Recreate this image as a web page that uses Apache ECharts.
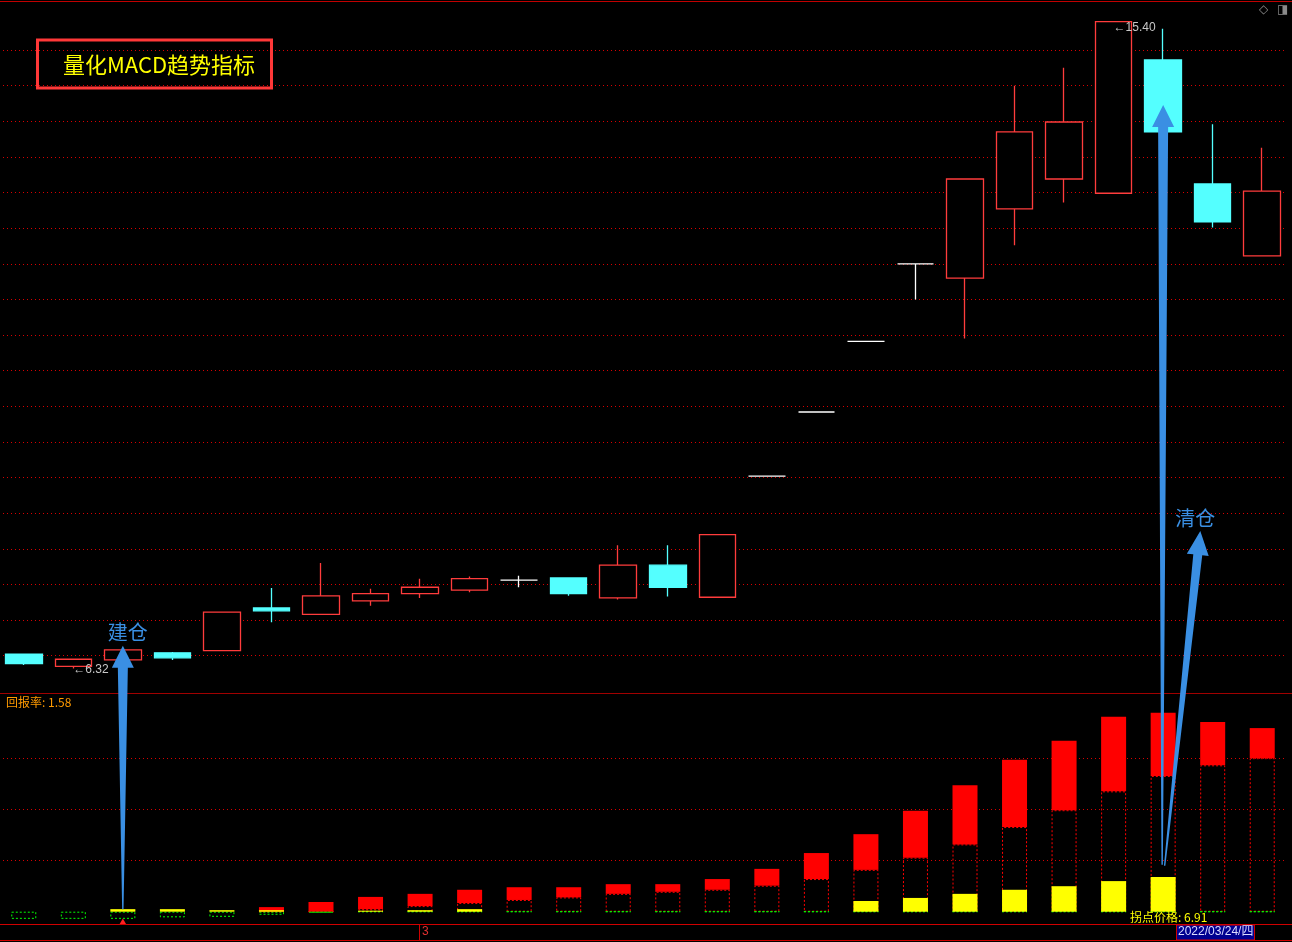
<!DOCTYPE html>
<html><head><meta charset="utf-8">
<script src="https://cdn.jsdelivr.net/npm/echarts@6/dist/echarts.min.js"></script>
<style>html,body{margin:0;padding:0;background:#000;}#c{width:1292px;height:942px;}</style>
</head><body><div id="c"></div>
<script>
// ---- data ----
const categories = ['2022/02/17','2022/02/18','2022/02/21','2022/02/22','2022/02/23','2022/02/24','2022/02/25','2022/02/28',
  '2022/03/01','2022/03/02','2022/03/03','2022/03/04','2022/03/07','2022/03/08','2022/03/09','2022/03/10','2022/03/11',
  '2022/03/14','2022/03/15','2022/03/16','2022/03/17','2022/03/18','2022/03/21','2022/03/22','2022/03/23','2022/03/24'];
const opens  = [6.52,6.35,6.44,6.54,6.57,7.17,7.08,7.27,7.37,7.42,7.56,7.59,7.31,7.77,7.32,9.02,9.92,10.91,12.00,11.80,12.77,13.19,12.99,14.86,13.12,12.11];
const closes = [6.39,6.45,6.58,6.47,7.11,7.13,7.34,7.37,7.46,7.58,7.56,7.37,7.77,7.46,8.20,9.02,9.92,10.91,12.00,13.19,13.85,13.99,15.40,13.85,12.59,13.02];
const lows   = [6.37,6.32,6.44,6.44,6.57,6.97,7.08,7.20,7.31,7.39,7.46,7.34,7.29,7.33,7.32,9.02,9.92,10.91,11.50,10.95,12.26,12.86,12.99,13.85,12.51,12.11];
const highs  = [6.52,6.46,6.58,6.55,7.11,7.45,7.80,7.44,7.58,7.61,7.62,7.59,8.05,8.05,8.20,9.02,9.92,10.91,12.00,13.19,14.50,14.75,15.40,15.30,13.96,13.63];
// lower panel (趋势柱)
const trendLow  = [null,null,null,null,null,0,0,0.05,0.11,0.17,0.23,0.28,0.35,0.39,0.43,0.51,0.64,0.82,1.06,1.32,1.66,1.99,2.36,2.66,2.87,3.01];
const trendHigh = [null,null,null,null,null,0.09,0.19,0.29,0.35,0.43,0.48,0.48,0.54,0.54,0.64,0.84,1.15,1.52,1.98,2.48,2.98,3.35,3.82,3.90,3.72,3.60];
const yellowVals = [0,0,0.05,0.05,0.03,0.03,0,0.02,0.03,0.05,0,0,0,0,0,0,0,0.21,0.27,0.35,0.43,0.50,0.60,0.68,0,0];
const greenVals  = [-0.14,-0.14,-0.14,-0.11,-0.10,-0.06,-0.02,0,0,0,0,0,0,0,0,0,0,0,0,0,0,0,0,0,0,0];
const priceTicks = {min:6, max:15.5, step:0.5};
const subGridValues = [1,2,3];
const lowMark = {index:1, value:6.32};
const highMark = {index:22, value:15.40};

const RED='#ff3c3c', CYAN='#54ffff', GRIDRED='#ff0000', ARROW='#3a8fe3';
const chart = echarts.init(document.getElementById('c'), null, {renderer:'canvas'});
const candleData = opens.map((o,i)=>[o, closes[i], lows[i], highs[i]]);
const redPart = trendHigh.map((h,i)=> h==null? null : +(h - trendLow[i]).toFixed(3));
const FONT = '"Noto Sans CJK SC", "Liberation Sans", sans-serif';

chart.setOption({
  backgroundColor:'#000',
  animation:false,
  grid:[
    {left:-1, right:5, top:14.4, height:676.9, outerBoundsMode:'none'},
    {left:-1, right:5, top:693, height:231.3, outerBoundsMode:'none'}
  ],
  xAxis:[
    {type:'category', gridIndex:0, data:categories, boundaryGap:true, axisLine:{show:false}, axisTick:{show:false}, axisLabel:{show:false}, splitLine:{show:false}},
    {type:'category', gridIndex:1, data:categories, boundaryGap:true, axisLine:{show:false}, axisTick:{show:false}, axisLabel:{show:false}, splitLine:{show:false}}
  ],
  yAxis:[
    {type:'value', gridIndex:0, min:priceTicks.min, max:priceTicks.max, interval:priceTicks.step, scale:true,
      axisLine:{show:false}, axisTick:{show:false}, axisLabel:{show:false},
      splitLine:{show:true, showMinLine:false, showMaxLine:false, lineStyle:{color:GRIDRED, type:[1,3], width:1, opacity:0.85}}},
    {type:'value', gridIndex:1, min:-0.247, max:4.288,
      axisLine:{show:false}, axisTick:{show:false}, axisLabel:{show:false}, splitLine:{show:false}}
  ],
  series:[
    {type:'candlestick', xAxisIndex:0, yAxisIndex:0, data:candleData, barWidth:37, z:3,
      itemStyle:{color:'#000', color0:CYAN, borderColor:RED, borderColor0:CYAN, borderColorDoji:'#ffffff', borderWidth:1.3},
      emphasis:{disabled:true},
      markPoint:{symbol:'circle', symbolSize:0, silent:true,
        label:{show:true, position:'right', distance:0, color:'#c8c8c8', fontSize:12, fontFamily:'"Liberation Sans", sans-serif'},
        data:[
          {coord:[lowMark.index, lowMark.value], label:{formatter:'←'+lowMark.value.toFixed(2), offset:[0,1]}},
          {coord:[highMark.index, highMark.value], label:{formatter:'←'+highMark.value.toFixed(2), offset:[0,6]}}
        ]}
    },
    {type:'bar', name:'base', xAxisIndex:1, yAxisIndex:1, stack:'sub', data:trendLow, barWidth:25, barGap:'-100%', z:2,
      itemStyle:{color:'rgba(0,0,0,0)', borderColor:'#ff0000', borderType:[2,2], borderWidth:1},
      emphasis:{disabled:true},
      markLine:{silent:true, symbol:['none','none'], z:1, label:{show:false},
        lineStyle:{color:GRIDRED, type:[1,3], width:1, opacity:0.85},
        data: subGridValues.map(v=>({yAxis:v}))}
    },
    {type:'bar', name:'red', xAxisIndex:1, yAxisIndex:1, stack:'sub', data:redPart, barWidth:25, z:3,
      itemStyle:{color:'#ff0000'}, emphasis:{disabled:true}},
    {type:'bar', name:'yellow', xAxisIndex:1, yAxisIndex:1, data:yellowVals, barWidth:25, z:4,
      itemStyle:{color:'#ffff00'}, emphasis:{disabled:true}},
    {type:'bar', name:'green', xAxisIndex:1, yAxisIndex:1, data:greenVals, barWidth:25, z:3,
      itemStyle:{color:'rgba(0,0,0,0)', borderColor:'#00ff00', borderType:[2,2], borderWidth:1},
      emphasis:{disabled:true},
      markPoint:{symbol:'triangle', symbolSize:[7,6], silent:true, itemStyle:{color:'#ff2020'}, label:{show:false},
        data:[{coord:[2,-0.19]}]}
    }
  ]
});

function px(grid, idx, val){ return chart.convertToPixel({gridIndex:grid}, [idx, val]); }
function pxf(grid, f, val){
  const i = Math.floor(f), t = f - i;
  const a = px(grid, i, val), b = px(grid, Math.min(i+1, categories.length-1), val);
  return [a[0] + (b[0]-a[0])*t, a[1]];
}
function arrowPoly(tail, tip, headLen, headHalf, shaftHalf, tailHalf){
  const dx = tip[0]-tail[0], dy = tip[1]-tail[1], L = Math.hypot(dx,dy);
  const ux = dx/L, uy = dy/L, nx = -uy, ny = ux;
  const bx = tip[0]-ux*headLen, by = tip[1]-uy*headLen;
  return [tip, [bx+nx*headHalf, by+ny*headHalf], [bx+nx*shaftHalf, by+ny*shaftHalf],
    [tail[0]+nx*tailHalf, tail[1]+ny*tailHalf], [tail[0]-nx*tailHalf, tail[1]-ny*tailHalf],
    [bx-nx*shaftHalf, by-ny*shaftHalf], [bx-nx*headHalf, by-ny*headHalf]];
}
const a1tail = pxf(1, 2, 0.05), a1tip = pxf(0, 2, 6.64);
const a2tail = pxf(1, 22.98, 0.92), a2tip = pxf(0, 23, 14.23);
const a3tail = pxf(1, 23.03, 0.90), a3tip = pxf(0, 23.75, 8.25);
const monthX = px(0, 8, 10)[0];
const W = 1292;

chart.setOption({graphic:[
  // frame lines
  {type:'line', z:50, shape:{x1:0,y1:1.5,x2:W,y2:1.5}, style:{stroke:'#c00000', lineWidth:1}},
  {type:'line', z:50, shape:{x1:0,y1:693.5,x2:W,y2:693.5}, style:{stroke:'#a00000', lineWidth:1}},
  {type:'line', z:50, shape:{x1:0,y1:924.5,x2:W,y2:924.5}, style:{stroke:'#d00000', lineWidth:1}},
  {type:'line', z:50, shape:{x1:0,y1:940.5,x2:W,y2:940.5}, style:{stroke:'#d00000', lineWidth:1}},
  {type:'line', z:50, shape:{x1:Math.round(monthX)-0.5,y1:925,x2:Math.round(monthX)-0.5,y2:940}, style:{stroke:'#d00000', lineWidth:1}},
  {type:'text', z:50, x:monthX+2, y:926, style:{text:'3', fill:'#e03030', font:'12px "Liberation Sans", sans-serif'}},
  // date label
  {type:'rect', z:50, shape:{x:1176.5,y:925,width:78,height:15}, style:{fill:'#000090', stroke:'#d00000', lineWidth:1}},
  {type:'text', z:51, x:1178, y:926, style:{text:'2022/03/24/四', fill:'#dcdcff', font:'12px "Liberation Sans", "Noto Sans CJK SC", sans-serif'}},
  // icons
  {type:'text', z:50, x:1259, y:4, style:{text:'◇', fill:'#8a8a8a', font:'12px "DejaVu Sans", sans-serif'}},
  {type:'text', z:50, x:1277, y:4, style:{text:'◨', fill:'#8a8a8a', font:'12px "DejaVu Sans", sans-serif'}},
  // title box
  {type:'rect', z:50, shape:{x:37.5,y:40,width:234,height:48}, style:{fill:'rgba(0,0,0,0)', stroke:'#ff3838', lineWidth:3}},
  {type:'text', z:51, x:159, y:65, style:{text:'量化MACD趋势指标', fill:'#ffff00', font:'22px '+FONT, textAlign:'center', textVerticalAlign:'middle'}},
  // indicator texts
  {type:'text', z:50, x:6, y:702, style:{text:'回报率: 1.58', fill:'#ff9a00', font:'12px '+FONT, textVerticalAlign:'middle'}},
  {type:'text', z:60, x:1130, y:917, style:{text:'拐点价格: 6.91', fill:'#ffff00', font:'12px '+FONT, textVerticalAlign:'middle'}},
  // arrows
  {type:'polygon', z:100, shape:{points:arrowPoly(a1tail, a1tip, 22, 11, 5, 0.7)}, style:{fill:ARROW}},
  {type:'polygon', z:100, shape:{points:arrowPoly(a2tail, a2tip, 22, 11, 5, 0.7)}, style:{fill:ARROW}},
  {type:'polygon', z:100, shape:{points:arrowPoly(a3tail, a3tip, 24, 11, 4.5, 0.7)}, style:{fill:ARROW}},
  {type:'text', z:100, x:a1tip[0]+5, y:a1tip[1]-13, style:{text:'建仓', fill:ARROW, font:'20px '+FONT, textAlign:'center', textVerticalAlign:'middle'}},
  {type:'text', z:100, x:a3tip[0]-5, y:a3tip[1]-13, style:{text:'清仓', fill:ARROW, font:'20px '+FONT, textAlign:'center', textVerticalAlign:'middle'}}
]});
</script></body></html>
